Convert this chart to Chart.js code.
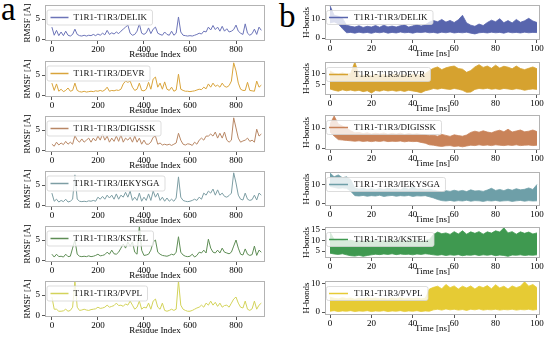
<!DOCTYPE html>
<html>
<head>
<meta charset="utf-8">
<script src="https://cdn.jsdelivr.net/npm/chart.js@4.4.1/dist/chart.umd.min.js"></script>
<style>
  html, body { margin: 0; padding: 0; background: #fff; }
  #fig { position: relative; width: 550px; height: 337px; overflow: hidden; background: #fff; }
  #fig canvas { position: absolute; }
  .panel-tag { position: absolute; font-family: 'Liberation Serif', 'Times New Roman', serif; font-size: 33px; line-height: 33px; color: #000; }
</style>
</head>
<body>
<div id="fig">
  <div class="panel-tag" style="left:1px; top:-7px;">a</div>
  <div class="panel-tag" style="left:279px; top:0px;">b</div>
</div>
<script>
/* ---- data: RMSF per residue (panel a) ---- */
var residueIdx = [0,10,20,30,40,50,60,70,80,90,100,110,120,130,140,150,160,170,180,190,
  200,210,220,230,240,250,260,270,280,290,300,310,320,330,340,350,360,370,380,390,
  400,410,420,430,440,450,460,470,480,490,500,510,520,530,540,550,560,570,580,590,
  600,610,620,630,640,650,660,670,680,690,700,710,720,730,740,750,760,770,780,790,
  800,810,820,830,840,850,860,870,880,890,900,910];

var rmsfDelik = [3.0,1.0,2.2,0.9,1.8,0.9,2.0,1.0,0.8,1.2,2.5,1.2,0.9,0.8,1.0,0.8,1.0,0.9,1.2,0.9,
  1.3,1.0,1.5,1.1,2.2,1.2,1.6,1.3,1.8,1.4,2.0,2.5,3.0,3.5,1.5,1.0,1.2,2.0,3.8,1.5,
  1.2,1.6,2.8,1.4,2.5,3.0,1.5,1.2,1.0,1.8,1.2,1.0,2.0,1.0,1.5,5.5,1.8,1.0,0.9,0.8,
  0.9,0.8,1.0,1.2,1.5,1.3,2.0,1.8,3.0,2.3,3.4,2.4,3.0,2.0,3.2,2.0,2.6,1.8,2.0,2.4,
  3.5,2.0,1.5,1.2,3.8,1.5,1.0,1.4,2.5,1.2,3.0,2.2];
var rmsfDevr = [3.0,1.2,2.8,1.0,1.5,0.9,1.2,1.8,1.0,1.2,3.0,1.2,0.9,0.8,1.0,0.8,0.9,1.0,0.9,1.1,
  1.0,1.2,1.0,1.3,2.0,1.0,1.2,1.1,1.3,1.2,1.5,2.8,3.5,3.2,3.5,2.0,1.2,1.5,3.0,1.2,
  1.1,1.5,3.2,1.5,4.0,4.5,2.0,3.0,1.5,3.3,1.5,1.2,2.0,1.0,1.3,5.2,1.5,1.2,1.0,1.0,
  0.9,1.0,1.1,1.3,1.5,1.4,2.0,1.6,2.8,2.0,3.0,2.2,2.5,2.0,3.0,2.2,2.0,2.4,3.5,8.0,
  6.0,3.0,1.5,1.2,1.2,3.2,1.2,1.1,1.0,3.5,2.0,2.5];
var rmsfDigissk = [1.5,1.0,2.0,1.3,1.8,1.4,2.2,1.5,2.0,1.5,3.6,2.5,2.0,2.8,2.0,2.5,3.0,2.0,3.0,2.3,
  3.5,2.5,4.0,2.5,3.5,2.0,3.0,2.2,3.5,2.2,3.8,2.0,3.0,2.5,3.2,2.0,3.5,2.0,3.0,1.5,
  2.5,1.5,1.5,2.0,3.2,3.5,1.5,1.8,1.3,1.5,1.3,1.5,1.2,1.5,1.8,4.2,2.5,1.5,1.3,1.6,
  1.5,1.2,2.0,1.5,2.5,3.0,2.5,3.5,3.5,4.0,3.5,4.5,3.0,4.2,3.0,4.5,2.5,2.0,2.5,8.0,
  5.5,3.0,2.0,2.3,2.5,3.0,2.2,2.5,2.0,5.2,3.5,4.0];
var rmsfIekysga = [3.0,1.0,1.5,0.8,1.2,0.9,1.5,0.8,1.0,1.5,7.5,1.5,1.0,0.9,1.0,0.9,1.1,1.0,1.2,1.0,
  2.0,1.5,2.2,1.5,2.5,1.8,2.5,1.5,2.8,1.5,2.5,2.0,3.2,2.0,3.5,1.2,2.0,1.2,3.0,1.0,
  2.0,1.2,2.8,1.2,3.5,2.0,3.0,1.2,2.0,1.0,1.8,1.0,1.5,1.0,1.8,7.0,2.0,1.2,1.0,0.9,
  1.0,1.2,1.5,1.2,2.0,1.5,3.0,2.5,3.5,3.0,4.0,2.5,3.8,2.5,3.0,2.2,2.0,2.4,3.0,8.0,
  5.5,2.5,1.5,1.3,3.0,1.5,1.2,1.4,2.5,1.3,3.0,2.5];
var rmsfKstel = [1.5,0.8,1.5,0.9,1.0,0.8,1.5,0.9,1.0,3.0,5.0,1.5,1.0,0.9,1.0,0.9,1.1,0.9,1.0,1.2,
  1.5,1.1,1.2,1.4,2.0,1.5,2.5,1.6,1.5,2.0,3.0,4.0,3.0,4.5,3.5,4.5,2.0,1.5,8.5,2.5,
  1.2,1.3,1.5,2.5,4.5,5.0,2.0,1.5,1.2,1.1,1.0,1.2,1.5,1.3,2.0,5.8,2.0,1.3,1.0,0.9,
  1.0,1.5,0.8,1.2,2.0,1.8,2.5,1.8,5.2,3.0,2.0,1.8,2.5,1.8,3.0,2.0,1.8,1.6,2.0,3.5,
  5.0,3.0,1.5,1.3,2.8,1.5,1.2,1.4,3.5,1.2,2.5,2.0];
var rmsfPvpl = [4.5,1.5,1.5,1.0,1.0,1.1,1.5,1.0,1.2,2.0,8.5,2.0,1.2,1.3,1.5,1.3,1.2,1.4,1.5,1.6,
  2.0,1.7,1.8,2.0,2.5,2.0,2.2,2.4,3.0,2.4,2.5,2.2,2.8,2.5,3.5,2.5,1.5,2.0,3.5,1.5,
  2.0,1.8,3.0,1.5,3.5,4.0,2.0,1.5,3.0,1.2,1.0,1.2,1.5,1.2,1.5,8.5,2.5,1.5,1.2,1.0,
  1.0,1.2,1.5,1.8,2.0,2.5,2.0,3.0,2.5,3.5,2.5,3.2,2.2,3.0,2.0,2.4,2.5,2.0,3.0,4.0,
  4.5,3.0,2.0,1.8,3.5,1.5,1.2,1.6,3.5,1.5,2.5,3.0];

/* ---- data: H-bond count, upper / lower envelope every 2 ns (panel b) ---- */
var timeNs = [0,2,4,6,8,10,12,14,16,18,20,22,24,26,28,30,32,34,36,38,40,42,44,46,48,
  50,52,54,56,58,60,62,64,66,68,70,72,74,76,78,80,82,84,86,88,90,92,94,96,98,100];

var hbDelikHi = [17,12,11.5,10.5,6.8,6.2,5.8,6.5,5.6,6.2,5.8,6.6,5.7,6.8,5.9,6.3,5.8,6.5,7.0,5.8,6.4,7.2,6.3,7.0,8.4,
  9.2,8.6,9.8,8.4,9.3,8.2,9.6,12.0,8.0,6.8,6.2,7.4,6.6,8.2,9.4,8.6,10.2,8.1,9.2,8.0,9.8,8.3,9.1,10.4,9.0,8.2];
var hbDelikLo = [8,8.5,7.5,5,2.8,3.0,2.6,3.1,2.7,3.0,2.5,3.1,2.8,3.2,2.6,3.0,2.7,3.2,2.8,3.0,2.6,3.1,2.9,3.2,2.8,
  3.0,2.6,3.1,2.8,3.2,2.7,3.0,2.8,3.1,2.6,2.2,2.8,3.0,2.7,3.1,2.8,3.0,2.6,3.2,2.8,3.0,2.7,3.1,2.8,3.0,2.9];
var hbDevrHi = [11,10,9.6,10.2,9.5,10,15,9.2,9.0,9.4,8.8,9.6,9.0,9.5,8.9,9.3,9.7,9.0,9.4,8.8,9.6,9.1,9.5,9.8,11.2,
  12.2,12.8,11.6,12.4,12.9,13.2,12.1,11.8,10.4,11.2,12.8,13.8,12.6,13.2,12.2,13.6,12.3,13.1,12.7,12.0,13.2,12.1,11.6,12.2,12.8,12.0];
var hbDevrLo = [3.0,2.4,2.0,2.6,2.2,2.5,2.1,2.4,1.8,2.2,1.2,2.3,2.0,2.5,2.1,2.4,2.0,2.3,1.9,2.4,2.1,1.8,1.3,2.2,2.6,
  3.2,2.9,3.3,3.0,2.8,3.2,2.9,2.4,1.5,1.6,2.8,3.2,3.0,3.3,2.9,3.1,2.8,3.2,3.0,2.7,3.1,2.9,2.4,2.8,3.0,2.8];
var hbDigisskHi = [12,16,12,11,10,8.6,7.6,7.8,7.2,7.6,7.0,7.4,7.1,7.5,6.9,7.3,7.0,7.4,6.8,7.2,6.9,7.1,6.8,6.6,6.2,
  6.4,5.9,6.8,6.3,5.8,6.6,6.2,5.9,6.5,7.8,8.4,7.9,8.6,8.0,7.6,8.4,8.9,8.1,9.4,8.0,8.5,9.0,8.1,8.4,9.0,8.2];
var hbDigisskLo = [8,6,4.2,4.0,3.8,3.6,3.4,3.6,3.3,3.5,3.2,3.5,3.3,3.6,3.2,3.4,3.3,3.5,3.1,3.4,3.2,3.3,2.8,2.4,1.6,
  1.4,1.0,0.8,1.1,1.2,0.8,1.0,0.6,1.0,1.4,1.2,1.6,1.3,1.5,1.2,1.6,1.4,1.2,1.5,1.3,1.6,1.2,1.4,1.5,1.2,1.4];
var hbIekysgaHi = [16,14,15,13.5,14,12.5,8.2,7.6,8.0,7.4,7.8,7.2,7.9,7.3,8.1,7.5,7.7,7.2,8.4,7.4,9.0,7.6,7.8,7.3,7.6,
  7.0,6.6,6.2,6.8,6.4,7.0,6.5,6.9,6.3,7.2,6.6,6.8,6.4,7.1,8.0,6.9,7.4,6.8,7.6,7.0,7.8,7.2,7.5,8.2,7.4,10.0];
var hbIekysgaLo = [9,8.5,8.0,8.2,8.0,6.5,4.2,4.0,4.3,3.9,4.2,4.0,4.4,3.8,4.1,4.3,3.9,4.2,4.0,4.3,3.8,4.1,4.0,4.2,3.6,
  3.0,2.2,1.6,1.4,1.7,1.3,1.6,1.4,1.8,1.3,1.6,1.5,1.2,1.6,1.4,1.7,1.3,1.5,1.6,1.2,1.5,1.7,1.3,1.6,1.4,1.5];
var hbKstelHi = [14,10.5,10,10.4,9.8,10.2,9.6,10.0,9.7,10.3,9.8,10.1,9.6,10.2,9.9,10.4,9.7,10.1,9.8,10.3,9.9,10.2,9.6,10.1,10.5,
  12.8,14.0,13.2,13.6,12.9,14.2,13.1,14.6,13.0,14.1,13.4,14.2,13.0,14.1,13.5,14.6,14.0,16.0,13.6,14.2,13.0,14.1,13.4,14.0,13.1,13.6];
var hbKstelLo = [4,3.6,3.4,3.7,3.2,2.8,2.6,3.0,2.5,2.9,3.2,3.5,3.3,3.6,3.4,3.7,3.3,3.6,3.4,3.5,3.2,3.6,3.4,3.7,3.5,
  3.2,3.0,3.3,2.9,3.2,3.0,3.3,2.8,3.1,3.0,3.3,2.9,3.2,3.0,3.3,2.8,3.1,2.9,2.5,3.1,3.0,3.2,2.9,3.1,3.0,3.2];
var hbPvplHi = [5.2,4.8,4.6,5.0,4.7,4.9,4.5,4.8,4.6,5.0,4.7,4.9,4.6,4.8,4.5,4.9,4.7,5.0,4.6,4.8,4.7,4.9,4.6,4.8,8.0,
  8.6,9.0,8.1,9.6,8.5,9.1,8.0,9.0,8.4,9.1,8.0,9.0,8.5,9.2,8.1,9.5,8.4,9.0,8.0,9.1,8.5,9.0,10.5,9.0,9.6,8.5];
var hbPvplLo = [0.3,0.5,0.2,0.4,0.3,0.5,0.2,0.4,0.3,0.5,0.2,0.4,0.3,0.5,0.2,0.4,0.3,0.5,0.2,0.4,0.3,0.5,0.2,0.4,0.3,
  0.8,1.0,0.7,1.1,0.8,1.0,0.7,0.9,0.6,1.0,0.8,1.1,0.7,0.9,0.8,1.0,0.7,0.9,0.8,1.0,0.7,0.9,0.8,1.0,0.7,0.9];

/* ---- tick labels ---- */
var residueTicks = [0, 200, 400, 600, 800];
var rmsfTicks = [0, 5];
var timeTicks = [0, 20, 40, 60, 80, 100];
var hbTicks = [[0, 10], [5, 10], [0, 10], [0, 10], [5, 10, 15], [0, 10]];

var systems = ['T1R1-T1R3/DELIK', 'T1R1-T1R3/DEVR', 'T1R1-T1R3/DIGISSK',
  'T1R1-T1R3/IEKYSGA', 'T1R1-T1R3/KSTEL', 'T1R1-T1R3/PVPL'];

/* ---- look ---- */
var FONT = "'Liberation Serif', 'Times New Roman', serif";
var LEFT_COLORS = ['#6c74b8', '#d9a43b', '#b88765', '#7d9ea4', '#5e8d55', '#d3d35a'];
var RIGHT_COLORS = ['#5865ad', '#d6a22f', '#c98359', '#6e9fa8', '#3f9950', '#e6cb34'];
var LEFT_TOPS = [5, 61, 115.5, 171, 225.5, 281];
var LEFT_H = 36;
var RIGHT_TOPS = [5, 61.5, 115, 172, 227, 281];
var RIGHT_H = [35, 33.5, 35, 34, 31, 34];
var RIGHT_Y = [[-1, 17.4], [0.3, 15], [-1, 16.5], [-1.2, 16.5], [1.7, 16.4], [-1, 10.8]];
var PAD_TOP = 8, X_AXIS_H = 19;

Chart.defaults.font.family = FONT;
Chart.defaults.color = '#000';

/* frame round the plot area, matplotlib style */
var axesFrame = {
  id: 'axesFrame',
  afterDatasetsDraw: function (chart) {
    var a = chart.chartArea, ctx = chart.ctx;
    ctx.save();
    ctx.strokeStyle = '#b3b3b3';
    ctx.lineWidth = 1;
    ctx.strokeRect(Math.round(a.left) + 0.5, Math.round(a.top) + 0.5,
      Math.round(a.right - a.left) - 1, Math.round(a.bottom - a.top) - 1);
    ctx.restore();
  }
};

/* boxed legend drawn on top of the data (upper left) */
var boxLegend = {
  id: 'boxLegend',
  afterDatasetsDraw: function (chart, args, o) {
    var a = chart.chartArea, ctx = chart.ctx;
    var ds = chart.data.datasets[chart.data.datasets.length - 1];
    ctx.save();
    ctx.font = '9px ' + FONT;
    var tw = ctx.measureText(ds.label).width;
    var x = a.left + o.dx, y = a.top + o.dy, h = o.h, w = o.textX + tw + 5;
    ctx.beginPath();
    ctx.roundRect(x + 0.5, y + 0.5, w, h, 2);
    ctx.fillStyle = 'rgba(255,255,255,0.8)';
    ctx.fill();
    ctx.strokeStyle = '#d4d4d4';
    ctx.lineWidth = 0.8;
    ctx.stroke();
    ctx.strokeStyle = ds.borderColor;
    ctx.lineWidth = 1.5;
    ctx.beginPath();
    ctx.moveTo(x + o.line0, y + h / 2 + 0.5);
    ctx.lineTo(x + o.line1, y + h / 2 + 0.5);
    ctx.stroke();
    ctx.fillStyle = '#111';
    ctx.textBaseline = 'middle';
    ctx.fillText(ds.label, x + o.textX, y + h / 2 + 1);
    ctx.restore();
  }
};

function fixedTicks(list) {
  return function (scale) {
    scale.ticks = list.map(function (v) { return { value: v }; });
  };
}

function axis(opts) {
  return {
    type: 'linear',
    min: opts.min,
    max: opts.max,
    afterBuildTicks: fixedTicks(opts.ticks),
    afterFit: opts.afterFit,
    border: { display: false },
    grid: { drawOnChartArea: false, drawTicks: true, tickLength: 3, tickColor: '#555' },
    ticks: { font: { size: 9 }, color: '#000', padding: opts.tickPad, maxRotation: 0, autoSkip: false },
    title: { display: true, text: opts.title, font: { size: 9 }, color: '#000', padding: 0 }
  };
}

function addCanvas(left, top, width, height) {
  var c = document.createElement('canvas');
  c.width = width;
  c.height = height;
  c.style.left = left + 'px';
  c.style.top = top + 'px';
  c.style.width = width + 'px';
  c.style.height = height + 'px';
  document.getElementById('fig').appendChild(c);
  return c;
}

function pts(xs, ys) {
  return xs.map(function (x, i) { return { x: x, y: ys[i] }; });
}

function rmsfChart(i, values) {
  var h = PAD_TOP + LEFT_H + X_AXIS_H;
  var c = addCanvas(0, LEFT_TOPS[i] - PAD_TOP, 275, h);
  new Chart(c, {
    type: 'line',
    data: {
      datasets: [{
        label: systems[i],
        data: pts(residueIdx, values),
        borderColor: LEFT_COLORS[i],
        borderWidth: 1,
        pointRadius: 0,
        tension: 0,
        fill: false
      }]
    },
    options: {
      responsive: false,
      animation: false,
      events: [],
      layout: { padding: { left: 22, right: 10, top: PAD_TOP, bottom: 0 } },
      plugins: {
        legend: { display: false },
        tooltip: { enabled: false },
        boxLegend: { dx: 1.5, dy: 4.5, h: 15, line0: 4, line1: 22, textX: 27 }
      },
      scales: {
        x: axis({ min: -30, max: 926, ticks: residueTicks, title: 'Residue Index', tickPad: 0,
          afterFit: function (s) { s.height = X_AXIS_H; } }),
        y: axis({ min: -0.42, max: 8.45, ticks: rmsfTicks, title: 'RMSF [\u00c5]', tickPad: 2,
          afterFit: function (s) { s.width = 23; } })
      }
    },
    plugins: [axesFrame, boxLegend]
  });
}

function hbondChart(i, hi, lo) {
  var h = PAD_TOP + RIGHT_H[i] + X_AXIS_H;
  var c = addCanvas(275, RIGHT_TOPS[i] - PAD_TOP, 275, h);
  var col = RIGHT_COLORS[i];
  new Chart(c, {
    type: 'line',
    data: {
      datasets: [{
        label: systems[i] + ' min',
        data: pts(timeNs, lo),
        borderColor: col,
        borderWidth: 0.8,
        pointRadius: 0,
        fill: false
      }, {
        label: systems[i],
        data: pts(timeNs, hi),
        borderColor: col,
        backgroundColor: col,
        borderWidth: 0.8,
        pointRadius: 0,
        fill: '-1'
      }]
    },
    options: {
      responsive: false,
      animation: false,
      events: [],
      layout: { padding: { left: 26, right: 10, top: PAD_TOP, bottom: 0 } },
      plugins: {
        legend: { display: false },
        tooltip: { enabled: false },
        boxLegend: { dx: 1, dy: 5, h: 14, line0: 3, line1: 22, textX: 28 }
      },
      scales: {
        x: axis({ min: -2.42, max: 101.45, ticks: timeTicks, title: 'Time [ns]', tickPad: 0,
          afterFit: function (s) { s.height = X_AXIS_H; } }),
        y: axis({ min: RIGHT_Y[i][0], max: RIGHT_Y[i][1], ticks: hbTicks[i], title: 'H-bonds', tickPad: 2,
          afterFit: function (s) { s.width = 24; } })
      }
    },
    plugins: [axesFrame, boxLegend]
  });
}

var rmsfSeries = [rmsfDelik, rmsfDevr, rmsfDigissk, rmsfIekysga, rmsfKstel, rmsfPvpl];
var hbHi = [hbDelikHi, hbDevrHi, hbDigisskHi, hbIekysgaHi, hbKstelHi, hbPvplHi];
var hbLo = [hbDelikLo, hbDevrLo, hbDigisskLo, hbIekysgaLo, hbKstelLo, hbPvplLo];

for (var k = 0; k < 6; k++) {
  rmsfChart(k, rmsfSeries[k]);
  hbondChart(k, hbHi[k], hbLo[k]);
}
</script>
</body>
</html>
